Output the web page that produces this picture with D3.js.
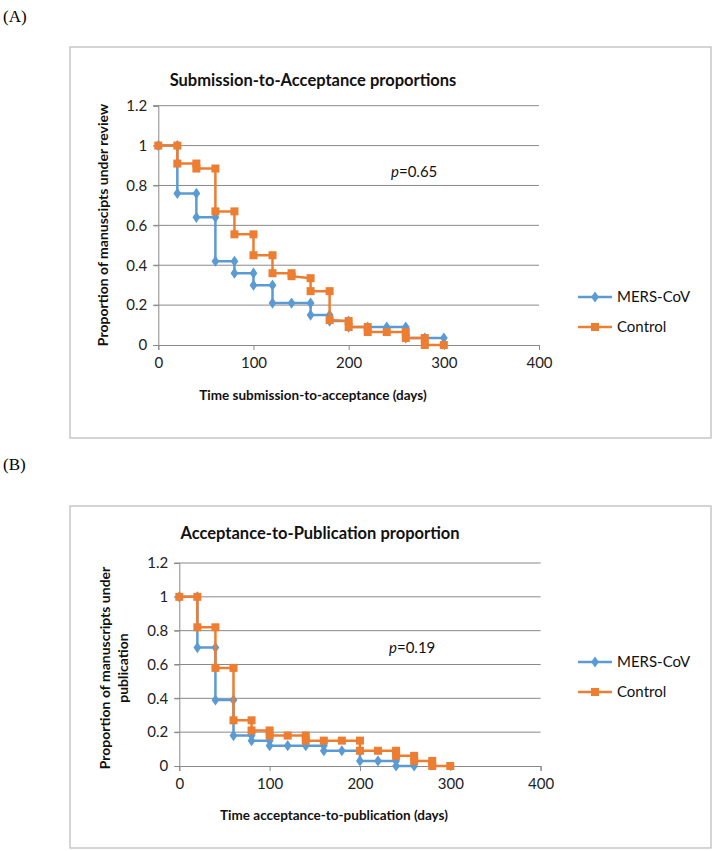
<!DOCTYPE html>
<html><head><meta charset="utf-8">
<script src="https://cdn.jsdelivr.net/npm/d3@7"></script>
<style>
html,body{margin:0;padding:0;background:#fff;}
svg{display:block;font-family:Lato,"Open Sans",sans-serif;}
</style></head>
<body>
<svg id="chart" width="714" height="851"></svg>
<script>
// ---- Data ----
const xTicks = [0, 100, 200, 300, 400];
const yTicks = [0, 0.2, 0.4, 0.6, 0.8, 1, 1.2];
const seriesNames = ["MERS-CoV", "Control"];

// Chart A: submission-to-acceptance
const aMersDays = [0,20,20,40,40,60,60,80,80,100,100,120,120,140,160,160,180,180,200,200,220,240,260,260,280,300];
const aMersProp = [1,1,0.76,0.76,0.64,0.64,0.42,0.42,0.36,0.36,0.30,0.30,0.21,0.21,0.21,0.15,0.15,0.12,0.12,0.09,0.09,0.09,0.09,0.035,0.035,0.035];
const aCtrlDays = [0,20,20,40,40,60,60,80,80,100,100,120,120,140,140,160,160,180,180,200,200,220,220,240,260,260,280,280,300];
const aCtrlProp = [1,1,0.91,0.91,0.885,0.885,0.67,0.67,0.555,0.555,0.45,0.45,0.36,0.36,0.345,0.335,0.27,0.27,0.125,0.12,0.09,0.09,0.065,0.065,0.065,0.035,0.035,0,0];

// Chart B: acceptance-to-publication
const bMersDays = [0,20,20,40,40,60,60,80,80,100,100,120,140,160,160,180,200,200,220,240,240,260];
const bMersProp = [1,1,0.70,0.70,0.39,0.39,0.18,0.18,0.15,0.15,0.12,0.12,0.12,0.12,0.09,0.09,0.09,0.03,0.03,0.03,0,0];
const bCtrlDays = [0,20,20,40,40,60,60,80,80,100,100,120,140,140,160,180,200,200,220,240,240,260,260,280,280,300];
const bCtrlProp = [1,1,0.82,0.82,0.58,0.58,0.27,0.27,0.21,0.21,0.18,0.18,0.18,0.15,0.15,0.15,0.15,0.09,0.09,0.09,0.06,0.06,0.03,0.03,0,0];

const BLUE = "#5B9BD5", ORANGE = "#ED7D31";
const svg = d3.select("#chart");

function zip(xs, ys){ return xs.map((d,i)=>({x:d, y:ys[i]})); }

function drawChart(cfg){
  const g = svg.append("g");
  g.append("rect").attr("x",cfg.box[0]).attr("y",cfg.box[1]).attr("width",cfg.box[2]).attr("height",cfg.box[3])
    .attr("fill","#fff").attr("stroke","#BFBFBF").attr("stroke-width",1.3);
  const x = d3.scaleLinear().domain([0,400]).range(cfg.xr);
  const y = d3.scaleLinear().domain([0,1.2]).range(cfg.yr);

  g.append("g").selectAll("line").data(yTicks.filter(d=>d>0)).join("line")
    .attr("x1",x(0)-5).attr("x2",x(400)).attr("y1",d=>y(d)).attr("y2",d=>y(d))
    .attr("stroke","#898989").attr("stroke-width",1);
  const ya = g.append("g").attr("transform",`translate(${x(0)},0)`)
    .call(d3.axisLeft(y).tickValues(yTicks).tickFormat(d=>String(d)).tickSize(5).tickPadding(6));
  ya.select(".domain").attr("stroke","#898989");
  ya.selectAll(".tick line").attr("stroke","#898989");
  ya.selectAll("text").attr("font-size",15).attr("fill","#222").attr("font-family","Lato, sans-serif");
  const xa = g.append("g").attr("transform",`translate(0,${y(0)})`)
    .call(d3.axisBottom(x).tickValues(xTicks).tickFormat(d3.format("d")).tickSize(5).tickPadding(7));
  xa.select(".domain").attr("stroke","#898989");
  xa.selectAll(".tick line").attr("stroke","#898989");
  xa.selectAll("text").attr("font-size",15).attr("fill","#222").attr("font-family","Lato, sans-serif");

  const line = d3.line().x(d=>x(d.x)).y(d=>y(d.y));
  const mers = zip(cfg.mers[0], cfg.mers[1]);
  const ctrl = zip(cfg.ctrl[0], cfg.ctrl[1]);
  g.append("path").datum(mers).attr("d",line).attr("fill","none").attr("stroke",BLUE).attr("stroke-width",2.5);
  g.append("g").selectAll("path").data(mers).join("path")
    .attr("d",d3.symbol(d3.symbolDiamond, 40)())
    .attr("transform",d=>`translate(${x(d.x)},${y(d.y)}) scale(1.15,0.95)`).attr("fill",BLUE);
  g.append("path").datum(ctrl).attr("d",line).attr("fill","none").attr("stroke",ORANGE).attr("stroke-width",2.5);
  g.append("g").selectAll("rect").data(ctrl).join("rect")
    .attr("x",d=>x(d.x)-4).attr("y",d=>y(d.y)-4).attr("width",8).attr("height",8).attr("fill",ORANGE);

  g.append("text").attr("x",cfg.title[1]).attr("y",cfg.title[2]).attr("text-anchor","middle")
    .attr("font-size",16.5).attr("font-weight","bold").attr("fill","#111").text(cfg.title[0]);
  const yl = g.append("text").attr("transform",`translate(${cfg.ylab.x},${cfg.ylab.y}) rotate(-90)`)
    .attr("text-anchor","middle").attr("font-size",14).attr("font-weight","bold").attr("fill","#111");
  cfg.ylab.lines.forEach((t,i)=>yl.append("tspan").attr("x",0).attr("dy",i===0?0:18).text(t));
  g.append("text").attr("x",cfg.xlab[1]).attr("y",cfg.xlab[2]).attr("text-anchor","middle")
    .attr("font-size",13.5).attr("font-weight","bold").attr("fill","#111").text(cfg.xlab[0]);
  const pt = g.append("text").attr("x",cfg.p[1]).attr("y",cfg.p[2]).attr("font-size",15).attr("fill","#111");
  pt.append("tspan").attr("font-style","italic").text("p");
  pt.append("tspan").text("=" + cfg.p[0]);
  seriesNames.forEach((name,i)=>{
    const ly = cfg.leg[1] + i*30;
    const lx = cfg.leg[0];
    const col = i===0?BLUE:ORANGE;
    g.append("line").attr("x1",lx).attr("x2",lx+34).attr("y1",ly).attr("y2",ly).attr("stroke",col).attr("stroke-width",2.5);
    if(i===0){
      g.append("path").attr("d",d3.symbol(d3.symbolDiamond,40)()).attr("transform",`translate(${lx+17},${ly}) scale(1.15,0.95)`).attr("fill",col);
    } else {
      g.append("rect").attr("x",lx+13).attr("y",ly-4).attr("width",8).attr("height",8).attr("fill",col);
    }
    g.append("text").attr("x",lx+39).attr("y",ly+5).attr("font-size",15).attr("fill","#111").text(name);
  });
}

svg.append("text").attr("x",3).attr("y",22).attr("font-family","'Liberation Serif', serif").attr("font-size",17).text("(A)");
svg.append("text").attr("x",3).attr("y",470).attr("font-family","'Liberation Serif', serif").attr("font-size",17).text("(B)");

drawChart({
  box:[70,47,641,391], xr:[158.3,539], yr:[345,105.7],
  mers:[aMersDays,aMersProp], ctrl:[aCtrlDays,aCtrlProp],
  title:["Submission-to-Acceptance proportions",313,86],
  ylab:{x:108,y:225,lines:["Proportion of manuscipts under review"]},
  xlab:["Time submission-to-acceptance (days)",313,400],
  p:["0.65",391,177], leg:[578,297]
});
drawChart({
  box:[70,506,641,342], xr:[179.3,540.6], yr:[766,563],
  mers:[bMersDays,bMersProp], ctrl:[bCtrlDays,bCtrlProp],
  title:["Acceptance-to-Publication proportion",320,539],
  ylab:{x:110,y:668,lines:["Proportion of manuscripts under","publication"]},
  xlab:["Time acceptance-to-publication (days)",334,820],
  p:["0.19",389,653], leg:[578,662]
});
</script>
</body></html>
